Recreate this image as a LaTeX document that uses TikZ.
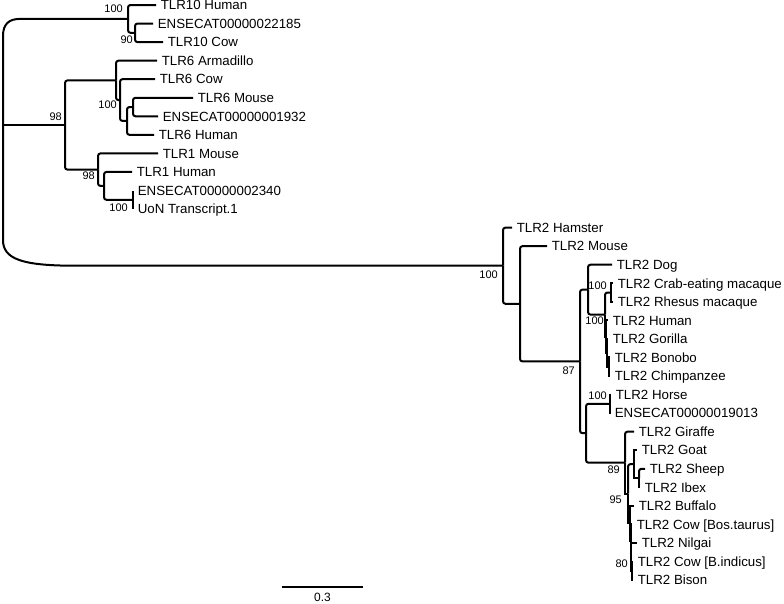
\documentclass[tikz,border=0pt]{standalone}
\usepackage{fontspec}
\setmainfont{Liberation Sans}
\tikzset{
  br/.style={line width=2pt, rounded corners=2.5pt},
  brs/.style={line width=2pt},
  leaf/.style={anchor=west, inner xsep=4.6pt, inner ysep=0pt, text height=9.5pt, text depth=0pt, font=\fontsize{13.3}{15}\selectfont},
  bs/.style={anchor=east, inner sep=0pt, text height=7.8pt, text depth=0pt, font=\fontsize{11}{12}\selectfont},
}
\begin{document}
\begin{tikzpicture}[x=1pt,y=-1pt]
\fill[white] (0,0) rectangle (784,603);
\useasboundingbox (0,0) rectangle (784,603);
% leaves
\node[leaf] (l0) at (156,5.0) {TLR10 Human};
\node[leaf] (l1) at (153,23.55) {ENSECAT00000022185};
\node[leaf] (l2) at (163,42.1) {TLR10 Cow};
\node[leaf] (l3) at (157,60.65) {TLR6 Armadillo};
\node[leaf] (l4) at (155,79.2) {TLR6 Cow};
\node[leaf] (l5) at (193,97.75) {TLR6 Mouse};
\node[leaf] (l6) at (158,116.3) {ENSECAT00000001932};
\node[leaf] (l7) at (154,134.85) {TLR6 Human};
\node[leaf] (l8) at (158,153.4) {TLR1 Mouse};
\node[leaf] (l9) at (132,171.95) {TLR1 Human};
\node[leaf] (l10) at (133,190.5) {ENSECAT00000002340};
\node[leaf] (l11) at (133,209.05) {UoN Transcript.1};
\node[leaf] (l12) at (512,227.6) {TLR2 Hamster};
\node[leaf] (l13) at (547,246.15) {TLR2 Mouse};
\node[leaf] (l14) at (612,264.7) {TLR2 Dog};
\node[leaf] (l15) at (613,283.25) {TLR2 Crab-eating macaque};
\node[leaf] (l16) at (613,301.8) {TLR2 Rhesus macaque};
\node[leaf] (l17) at (608,320.35) {TLR2 Human};
\node[leaf] (l18) at (608,338.9) {TLR2 Gorilla};
\node[leaf] (l19) at (610,357.45) {TLR2 Bonobo};
\node[leaf] (l20) at (610,376.0) {TLR2 Chimpanzee};
\node[leaf] (l21) at (611,394.55) {TLR2 Horse};
\node[leaf] (l22) at (610,413.1) {ENSECAT00000019013};
\node[leaf] (l23) at (634,431.65) {TLR2 Giraffe};
\node[leaf] (l24) at (637,450.2) {TLR2 Goat};
\node[leaf] (l25) at (645,468.75) {TLR2 Sheep};
\node[leaf] (l26) at (640,487.3) {TLR2 Ibex};
\node[leaf] (l27) at (634,505.85) {TLR2 Buffalo};
\node[leaf] (l28) at (632,524.4) {TLR2 Cow [Bos.taurus]};
\node[leaf] (l29) at (637,542.95) {TLR2 Nilgai};
\node[leaf] (l30) at (633,561.5) {TLR2 Cow [B.indicus]};
\node[leaf] (l31) at (633,580.05) {TLR2 Bison};
% internal nodes
\coordinate (root) at (3,125);
\coordinate (n10s) at (135,32.8);
\coordinate (n10) at (128,18.9);
\coordinate (n6a) at (133,107.0);
\coordinate (n6b) at (127,120.9);
\coordinate (n6c) at (120,100.1);
\coordinate (n6) at (116,80.4);
\coordinate (n1a) at (133,199.8);
\coordinate (n1b) at (104,185.9);
\coordinate (n1) at (98,169.6);
\coordinate (n61) at (65,125);
\coordinate (nCR) at (611,292.5);
\coordinate (nBC) at (609,366.7);
\coordinate (nGBC) at (607,352.8);
\coordinate (nApes) at (606,336.6);
\coordinate (nPrim) at (605,314.6);
\coordinate (nDogP) at (588,289.6);
\coordinate (nHE) at (609.5,403.8);
\coordinate (nSI) at (639,478);
\coordinate (nGoat) at (634,464.1);
\coordinate (nCB) at (632,570.8);
\coordinate (nNil) at (631,556.9);
\coordinate (nCow) at (630.5,540.6);
\coordinate (nBuf) at (630,523.2);
\coordinate (nY) at (628,493.7);
\coordinate (nBov) at (625,462.7);
\coordinate (nHB) at (586,433.2);
\coordinate (nMain) at (580,361.4);
\coordinate (nMouse) at (520,303.8);
\coordinate (nTLR2) at (503,265.7);
% root branches
\draw[brs] (root) -- (n61);
\draw[brs, line join=round] (nTLR2) -- (75,265.7) .. controls (22,265.7) and (3,259) .. (3,240) -- (3,36) .. controls (3,24) and (9,18.9) .. (20,18.9) -- (n10);
% rounded branches
\foreach \p/\c in {n10/l0.west, n10/n10s, n10s/l1.west, n10s/l2.west,
  n61/n6, n61/n1, n6/l3.west, n6/n6c, n6c/l4.west, n6c/n6b, n6b/n6a, n6b/l7.west,
  n6a/l5.west, n6a/l6.west, n1/l8.west, n1/n1b, n1b/l9.west, n1b/n1a,
  nTLR2/l12.west, nTLR2/nMouse, nMouse/l13.west, nMouse/nMain, nMain/nDogP, nMain/nHB,
  nDogP/l14.west, nDogP/nPrim, nPrim/nCR, nHB/nHE, nHB/nBov, nBov/l23.west, nY/nGoat, nSI/l25.west}
  \draw[br] (\p) |- (\c);
% short branches
\foreach \p/\c in {n1a/l10.west, n1a/l11.west, nPrim/nApes, nCR/l15.west, nCR/l16.west,
  nApes/l17.west, nApes/nGBC, nGBC/l18.west, nGBC/nBC, nBC/l19.west, nBC/l20.west,
  nHE/l21.west, nHE/l22.west, nBov/nY, nY/nBuf, nGoat/l24.west, nGoat/nSI, nSI/l26.west,
  nBuf/l27.west, nBuf/nCow, nCow/l28.west, nCow/nNil, nNil/l29.west, nNil/nCB,
  nCB/l30.west, nCB/l31.west}
  \draw[brs] (\p) |- (\c);
% support values
\node[bs] (b1) at (123,9) {100};
\node[bs] (b2) at (133,40) {90};
\node[bs] (b3) at (117,104.5) {100};
\node[bs] (b4) at (62,117) {98};
\node[bs] (b5) at (95,176) {98};
\node[bs] (b6) at (128,207.5) {100};
\node[bs] (b7) at (498,274.5) {100};
\node[bs] (b8) at (575,370.5) {87};
\node[bs] (b9) at (607,285.5) {100};
\node[bs] (b10) at (604,320.5) {100};
\node[bs] (b11) at (607,395.5) {100};
\node[bs] (b12) at (620,469.5) {89};
\node[bs] (b13) at (622,499.5) {95};
\node[bs] (b14) at (628,563.5) {80};
% scale bar
\coordinate (sb1) at (282,587);
\coordinate (sb2) at (363,587);
\draw[brs] (sb1) -- (sb2);
\node[inner sep=0pt, text height=8pt, text depth=0pt, font=\fontsize{12}{13}\selectfont] (sbl) at (322.5,597.5) {0.3};
\end{tikzpicture}
\end{document}
